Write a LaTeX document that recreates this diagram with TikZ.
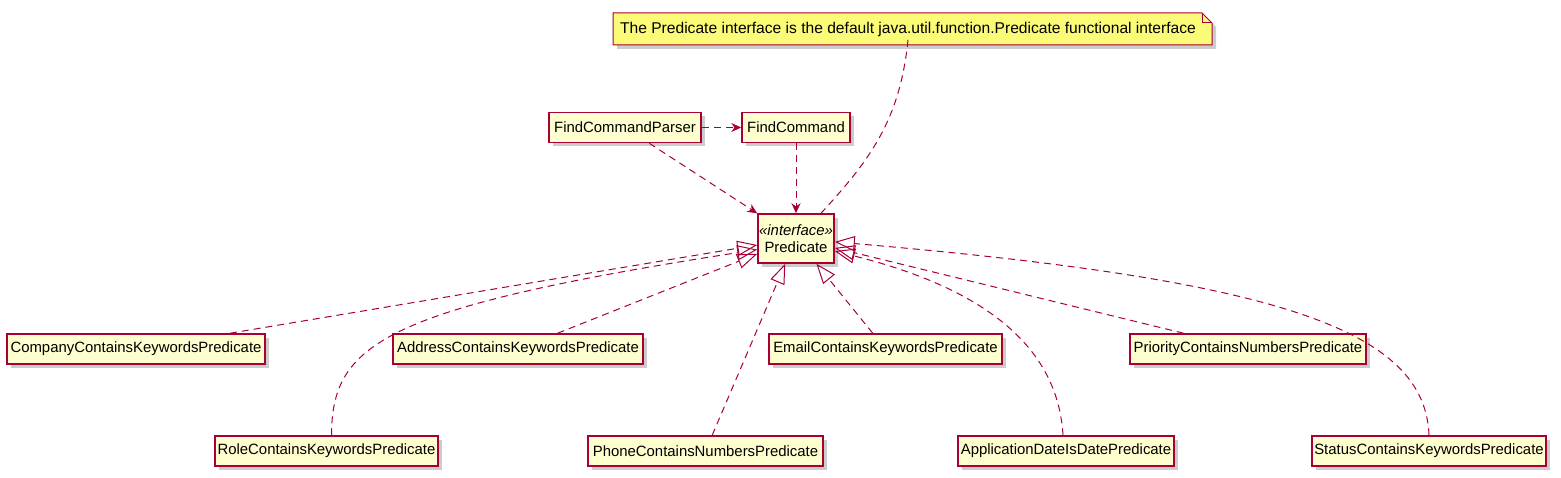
\documentclass[tikz,border=0pt]{standalone}
\usepackage{fontspec}
\setmainfont{Liberation Sans}
\usepackage{tikz}
\usetikzlibrary{arrows.meta,shadows,calc}

\definecolor{umlred}{HTML}{A80036}
\definecolor{umlfill}{HTML}{FEFECE}
\definecolor{umlnote}{HTML}{FBFB77}

\begin{document}
\begin{tikzpicture}[x=1pt,y=-1pt,
	cls/.style={draw=umlred,fill=umlfill,line width=1.5pt,inner sep=0pt,minimum height=30pt,
		font=\fontsize{14.9}{16.5}\selectfont,
		drop shadow={shadow xshift=4pt,shadow yshift=-4pt,opacity=.4}},
	dep/.style={umlred,line width=1pt,dash pattern=on 7pt off 5pt,-{Stealth[length=10pt,width=9pt]}},
	real/.style={umlred,line width=1pt,dash pattern=on 7pt off 5pt,-{Triangle[open,length=20pt,width=15pt]}},
	link/.style={umlred,line width=1pt,dash pattern=on 7pt off 5pt}]

	\useasboundingbox (0,0) rectangle (1561,478);

	% note with folded corner
	\filldraw[draw=umlred,fill=umlnote,line width=1pt,
		drop shadow={shadow xshift=4pt,shadow yshift=-4pt,opacity=.4}]
		(613,13) -- (1202,13) -- (1212,23) -- (1212,45) -- (613,45) -- cycle;
	\draw[umlred,line width=1pt] (1202,13) -- (1202,23) -- (1212,23);
	\node[font=\fontsize{15.6}{18}\selectfont] (note) at (908,29)
		{The Predicate interface is the default java.util.function.Predicate functional interface};

	\node[cls,minimum width=152pt] (parser) at (625,127.5) {FindCommandParser};
	\node[cls,minimum width=108pt] (cmd) at (796,127.5) {FindCommand};
	\node[cls,minimum width=76pt,minimum height=49pt,align=center] (pred) at (796,238.5)
		{\textit{«interface»}\\Predicate};

	\node[cls,minimum width=258pt] (company) at (136,349) {CompanyContainsKeywordsPredicate};
	\node[cls,minimum width=250pt] (address) at (518,349) {AddressContainsKeywordsPredicate};
	\node[cls,minimum width=233pt] (email) at (885.5,349) {EmailContainsKeywordsPredicate};
	\node[cls,minimum width=236pt] (priority) at (1248,349) {PriorityContainsNumbersPredicate};

	\node[cls,minimum width=223pt] (role) at (326.5,451) {RoleContainsKeywordsPredicate};
	\node[cls,minimum width=235pt] (phone) at (705.5,451) {PhoneContainsNumbersPredicate};
	\node[cls,minimum width=216pt] (appdate) at (1066,451) {ApplicationDateIsDatePredicate};
	\node[cls,minimum width=234pt] (status) at (1429,451) {StatusContainsKeywordsPredicate};

	\draw[dep] (parser) -- (cmd);
	\draw[dep] (parser) -- (pred);
	\draw[dep] (cmd) -- (pred);
	\draw[link] (note.south) .. controls (900,120) and (870,160) .. ([xshift=25pt]pred.north);

	\draw[real] (company) -- (pred);
	\draw[real] ([xshift=5pt]role.north) .. controls (332,345) and (380,308) .. (pred.196);
	\draw[real] (address) -- (pred);
	\draw[real] (phone) -- (pred);
	\draw[real] (email) -- (pred);
	\draw[real] ([xshift=-3pt]appdate.north) .. controls (1058,350) and (990,290) .. (pred.-18);
	\draw[real] (priority) -- (pred);
	\draw[real] (status.north) .. controls (1425,330) and (1280,280) .. (pred.-5);
\end{tikzpicture}
\end{document}
